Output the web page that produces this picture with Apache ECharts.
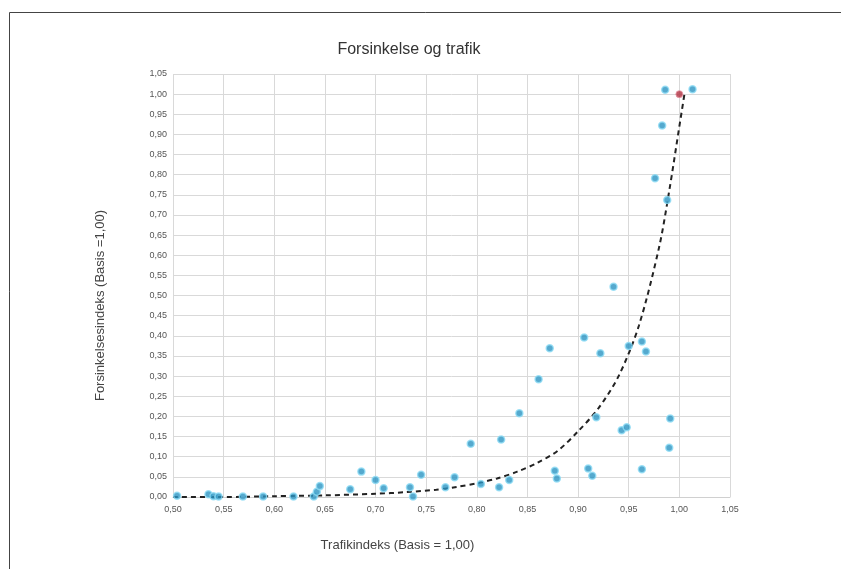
<!DOCTYPE html>
<html>
<head>
<meta charset="utf-8">
<script src="https://cdn.jsdelivr.net/npm/echarts@6/dist/echarts.min.js"></script>
<style>html,body{margin:0;padding:0;background:#fff}#c{width:841px;height:569px}</style>
</head>
<body>
<div id="c"></div>
<script>
const titleText = 'Forsinkelse og trafik';
const xName = 'Trafikindeks (Basis = 1,00)';
const yName = 'Forsinkelsesindeks (Basis =1,00)';

const pointX = [0.504, 0.535, 0.540, 0.545, 0.569, 0.589, 0.619, 0.639, 0.642, 0.645,
  0.675, 0.686, 0.700, 0.708, 0.734, 0.737, 0.745, 0.769, 0.778, 0.794,
  0.804, 0.822, 0.824, 0.832, 0.842, 0.861, 0.872, 0.877, 0.879, 0.906,
  0.910, 0.914, 0.918, 0.922, 0.935, 0.943, 0.948, 0.950, 0.963, 0.963,
  0.967, 0.976, 0.983, 0.986, 0.988, 0.990, 0.991, 1.013];
const pointY = [0.003, 0.007, 0.002, 0.001, 0.001, 0.001, 0.001, 0.001, 0.013, 0.027,
  0.019, 0.063, 0.042, 0.022, 0.024, 0.001, 0.055, 0.024, 0.049, 0.132,
  0.032, 0.024, 0.143, 0.042, 0.208, 0.292, 0.369, 0.065, 0.046, 0.396,
  0.071, 0.053, 0.198, 0.357, 0.522, 0.166, 0.173, 0.375, 0.386, 0.069,
  0.361, 0.791, 0.922, 1.011, 0.737, 0.122, 0.195, 1.012];

const refX = [1.00];
const refY = [1.00];

const trendX = [0.50, 0.55, 0.60, 0.65, 0.70, 0.73, 0.76, 0.78, 0.80, 0.82, 0.84, 0.86,
  0.88, 0.90, 0.92, 0.94, 0.96, 0.98, 0.99, 1.00, 1.005];
const trendY = [0.000, 0.000, 0.002, 0.004, 0.008, 0.012, 0.018, 0.025, 0.034, 0.046, 0.063, 0.085,
  0.115, 0.163, 0.220, 0.300, 0.425, 0.620, 0.760, 0.920, 1.000];

const fmt = v => (Math.round(v * 100) / 100).toFixed(2).replace('.', ',');
const pairs = (xs, ys) => xs.map((x, i) => [x, ys[i]]);

const chart = echarts.init(document.getElementById('c'));
chart.setOption({
  backgroundColor: '#fff',
  animation: false,
  title: {
    text: titleText, left: 404, top: 37, textAlign: 'center',
    textStyle: { fontFamily: 'Liberation Sans, Arial', fontSize: 16, fontWeight: 'normal', color: '#333' }
  },
  graphic: [{
    type: 'rect', left: 7, top: 10, shape: { width: 900, height: 700 },
    style: { fill: 'none', stroke: '#444', lineWidth: 1 }, silent: true, z: -1
  }],
  grid: { left: 173, right: 111, top: 74, bottom: 72, containLabel: false },
  xAxis: {
    type: 'value', min: 0.5, max: 1.05, interval: 0.05,
    name: xName, nameLocation: 'middle', nameGap: 42,
    nameTextStyle: { fontFamily: 'Liberation Sans, Arial', fontSize: 13, color: '#444', padding: [0, 108, 0, 0] },
    axisLine: { show: true, lineStyle: { color: '#d0d0d0' } },
    axisTick: { show: false },
    axisLabel: { formatter: fmt, fontFamily: 'Liberation Sans, Arial', fontSize: 9, color: '#555', margin: 8 },
    splitLine: { show: true, lineStyle: { color: '#d9d9d9' } }
  },
  yAxis: {
    type: 'value', min: 0, max: 1.05, interval: 0.05,
    name: yName, nameLocation: 'middle', nameGap: 66, nameRotate: 90,
    nameTextStyle: { fontFamily: 'Liberation Sans, Arial', fontSize: 13, color: '#444', padding: [0, 40, 0, 0] },
    axisLine: { show: false },
    axisTick: { show: false },
    axisLabel: { formatter: fmt, fontFamily: 'Liberation Sans, Arial', fontSize: 9, color: '#555', margin: 6 },
    splitLine: { show: true, lineStyle: { color: '#d9d9d9' } }
  },
  series: [
    {
      type: 'line', data: pairs(trendX, trendY), smooth: 0.3, symbol: 'none',
      lineStyle: { color: '#222', width: 2, type: [5, 4] }, z: 3
    },
    {
      type: 'scatter', data: pairs(pointX, pointY), symbolSize: 7,
      itemStyle: { color: '#2a93c2', borderColor: '#8fdcf5', borderWidth: 1.5 }, z: 4
    },
    {
      type: 'scatter', data: pairs(refX, refY), symbolSize: 7,
      itemStyle: { color: '#b03040', borderColor: '#e89aa8', borderWidth: 1 }, z: 5
    }
  ]
});
</script>
</body>
</html>
